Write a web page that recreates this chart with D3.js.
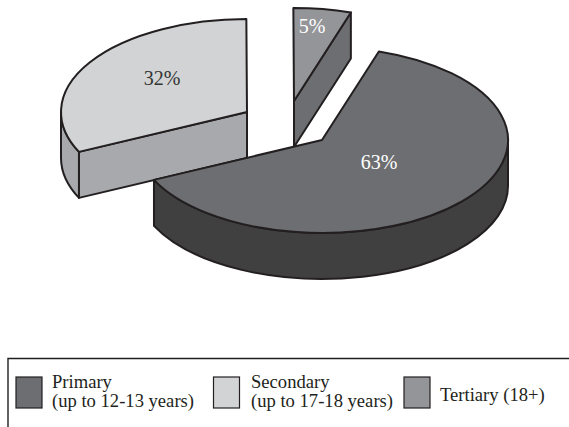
<!DOCTYPE html>
<html>
<head>
<title>Education pie</title>
<meta charset="utf-8">
<script src="https://d3js.org/d3.v7.min.js"></script>
<style>
    body { margin: 0; background: #fff; }
    text { font-family: "Liberation Serif", serif; }
</style>
</head>
<body>
<svg width="569" height="427" id="mainsvg"></svg>
<script>
const categories = ['Primary', 'Secondary', 'Tertiary'];
const shares = [63, 32, 5];
const pctLabels = ['63%', '32%', '5%'];
const legendLine1 = ['Primary', 'Secondary', 'Tertiary (18+)'];
const legendLine2 = ['(up to 12-13 years)', '(up to 17-18 years)', ''];

const topColor = ['#6d6e71', '#d1d3d4', '#939598'];
const sideColor = ['#404041', '#a7a9ac', '#6d6e71'];
const labelColor = ['#fff', '#333', '#fff'];

const svg = d3.select('#mainsvg');

// pie geometry: flattened circle, slices pulled out from the centre
const cx = 322, cy = 140, rx = 186, ry = 93, depth = 46;
const explode = [[0, 0], [-75, -28], [-28, -39]];
const labelPos = [[379, 162], [162, 78], [312, 26]];
const startDeg = 17.8;

const pie = d3.pie().sort(null)
    .startAngle(startDeg * Math.PI / 180)
    .endAngle(startDeg * Math.PI / 180 + 2 * Math.PI);
const slices = pie(shares);

const px = (i, a) => cx + explode[i][0] + rx * Math.sin(a);
const py = (i, a) => cy + explode[i][1] - ry * Math.cos(a);
const apexX = i => cx + explode[i][0];
const apexY = i => cy + explode[i][1];

function arcTo(i, a0, a1) {
    const large = Math.abs(a1 - a0) > Math.PI ? 1 : 0;
    const sweep = a1 > a0 ? 1 : 0;
    return `A${rx},${ry} 0 ${large} ${sweep} ${px(i, a1)},${py(i, a1)}`;
}

function topPath(i) {
    const s = slices[i];
    return `M${apexX(i)},${apexY(i)}L${px(i, s.startAngle)},${py(i, s.startAngle)}` +
        arcTo(i, s.startAngle, s.endAngle) + 'Z';
}

function outerWall(i, a0, a1) {
    return `M${px(i, a0)},${py(i, a0)}` + arcTo(i, a0, a1) +
        `L${px(i, a1)},${py(i, a1) + depth}` +
        `A${rx},${ry} 0 0 ${a1 > a0 ? 0 : 1} ${px(i, a0)},${py(i, a0) + depth}Z`;
}

function cutWall(i, a) {
    const x0 = apexX(i), y0 = apexY(i), x1 = px(i, a), y1 = py(i, a);
    return `M${x0},${y0}L${x1},${y1}L${x1},${y1 + depth}L${x0},${y0 + depth}Z`;
}

const g = svg.append('g')
    .attr('stroke', '#231f20')
    .attr('stroke-width', 2)
    .attr('stroke-linejoin', 'round');

const drawOrder = [1, 2, 0];
drawOrder.forEach(i => {
    const s = slices[i];
    if (i === 0) {
        // front wall, right extreme round to the left tip
        g.append('path').attr('d', outerWall(i, Math.PI / 2, s.endAngle)).attr('fill', sideColor[i]);
    }
    if (i === 1) {
        g.append('path').attr('d', outerWall(i, s.startAngle, 1.5 * Math.PI)).attr('fill', sideColor[i]);
        g.append('path').attr('d', cutWall(i, s.startAngle)).attr('fill', sideColor[i]);
    }
    if (i === 2) {
        g.append('path').attr('d', cutWall(i, s.endAngle)).attr('fill', sideColor[i]);
    }
    g.append('path').attr('d', topPath(i)).attr('fill', topColor[i]);
});

categories.forEach((c, i) => {
    svg.append('text')
        .attr('x', labelPos[i][0])
        .attr('y', labelPos[i][1] + 7)
        .attr('text-anchor', 'middle')
        .attr('font-size', 20)
        .attr('fill', labelColor[i])
        .text(pctLabels[i]);
});

// legend box, open on the right and at the bottom
svg.append('path')
    .attr('d', 'M8,427V358.5H569')
    .attr('fill', 'none')
    .attr('stroke', '#231f20')
    .attr('stroke-width', 1.4);

const swatchX = [16, 213.5, 404];
const textX = [52, 251, 440];
const legendSize = 18.6;
categories.forEach((c, i) => {
    svg.append('rect')
        .attr('x', swatchX[i]).attr('y', 377)
        .attr('width', 26).attr('height', 31)
        .attr('fill', topColor[i])
        .attr('stroke', '#231f20')
        .attr('stroke-width', 1.2);
    if (legendLine2[i]) {
        svg.append('text').attr('x', textX[i]).attr('y', 387.5)
            .attr('font-size', legendSize).attr('fill', '#231f20').text(legendLine1[i]);
        svg.append('text').attr('x', textX[i]).attr('y', 406.5)
            .attr('font-size', legendSize).attr('fill', '#231f20').text(legendLine2[i]);
    } else {
        svg.append('text').attr('x', textX[i]).attr('y', 401)
            .attr('font-size', legendSize).attr('fill', '#231f20').text(legendLine1[i]);
    }
});
</script>
</body>
</html>
